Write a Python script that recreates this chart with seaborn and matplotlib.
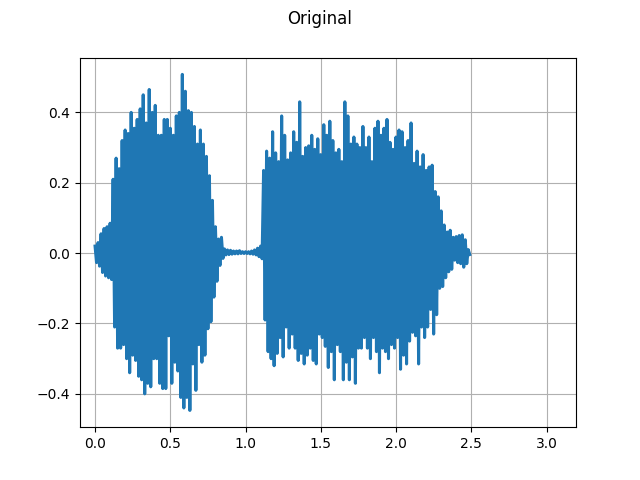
import numpy as np
import pandas as pd
import seaborn as sns
import matplotlib
matplotlib.use("Agg")
import matplotlib.pyplot as plt

# envelope of the waveform, one value every 20 ms
step = 0.02
upper_peaks = [
    0.02, 0.03, 0.055, 0.07, 0.075, 0.085, 0.21, 0.27, 0.24, 0.32,
    0.35, 0.34, 0.40, 0.355, 0.38, 0.41, 0.45, 0.37, 0.465, 0.40,
    0.42, 0.335, 0.335, 0.38, 0.38, 0.355, 0.335, 0.39, 0.40, 0.508,
    0.46, 0.405, 0.40, 0.36, 0.31, 0.35, 0.31, 0.275, 0.22, 0.15,
    0.075,
    0.04, 0.045, 0.012, 0.009, 0.008, 0.006, 0.006, 0.007, 0.004, 0.004,
    0.004, 0.006, 0.009, 0.014, 0.02,
    0.235, 0.29, 0.27, 0.345, 0.285, 0.26, 0.39, 0.335, 0.265, 0.285,
    0.345, 0.315, 0.43, 0.275, 0.30, 0.305, 0.335, 0.295, 0.325, 0.28,
    0.365, 0.335, 0.375, 0.32, 0.285, 0.295, 0.26, 0.43, 0.39,
    0.31, 0.33, 0.31, 0.30, 0.36, 0.30, 0.33, 0.26, 0.355, 0.375,
    0.335, 0.355, 0.38, 0.315, 0.295, 0.33, 0.35, 0.345, 0.30, 0.32,
    0.37, 0.255, 0.29, 0.245, 0.28, 0.235, 0.245, 0.25, 0.175, 0.16,
    0.12, 0.08, 0.06, 0.065, 0.045, 0.047, 0.05, 0.052, 0.038, 0.01,
]
lower_peaks = [
    -0.027, -0.037, -0.055, -0.065, -0.07, -0.075, -0.21, -0.27, -0.27, -0.26,
    -0.30, -0.34, -0.29, -0.305, -0.35, -0.36, -0.40, -0.37, -0.38, -0.30,
    -0.30, -0.37, -0.385, -0.385, -0.235, -0.37, -0.31, -0.335, -0.41, -0.44,
    -0.41, -0.447, -0.315, -0.39, -0.26, -0.31, -0.29, -0.215, -0.195, -0.125,
    -0.08,
    -0.035, -0.015, -0.005, -0.004, -0.003, -0.002, -0.002, -0.001, -0.001, -0.001,
    -0.002, -0.003, -0.005, -0.01, -0.016,
    -0.19, -0.28, -0.30, -0.32, -0.285, -0.24, -0.295, -0.21, -0.27, -0.23,
    -0.27, -0.305, -0.285, -0.315, -0.29, -0.27, -0.305, -0.315, -0.23, -0.24,
    -0.265, -0.325, -0.28, -0.36, -0.26, -0.28, -0.36, -0.31, -0.36,
    -0.295, -0.37, -0.27, -0.27, -0.24, -0.27, -0.30, -0.24, -0.28, -0.34,
    -0.27, -0.28, -0.30, -0.26, -0.27, -0.24, -0.33, -0.29, -0.315, -0.25,
    -0.225, -0.235, -0.315, -0.21, -0.24, -0.21, -0.16, -0.23, -0.175, -0.10,
    -0.095, -0.07, -0.053, -0.046, -0.02, -0.027, -0.03, -0.04, -0.03, -0.004,
]

times = np.arange(len(upper_peaks)) * step
# alternate between the upper and lower peak so the trace fills like a waveform
t = np.column_stack([times, times + step / 2]).ravel()
amp = np.column_stack([upper_peaks, lower_peaks]).ravel()
df = pd.DataFrame({"t": t, "amp": amp})

fig, ax = plt.subplots(figsize=(6.4, 4.8), dpi=100)
sns.lineplot(data=df, x="t", y="amp", sort=False, estimator=None,
             color="#1f77b4", linewidth=2.2, ax=ax)
ax.set_xlim(-0.1, 3.196)
ax.set_xlabel("")
ax.set_ylabel("")
ax.grid(True)
fig.suptitle("Original")
fig.savefig("out.png")
plt.close()
